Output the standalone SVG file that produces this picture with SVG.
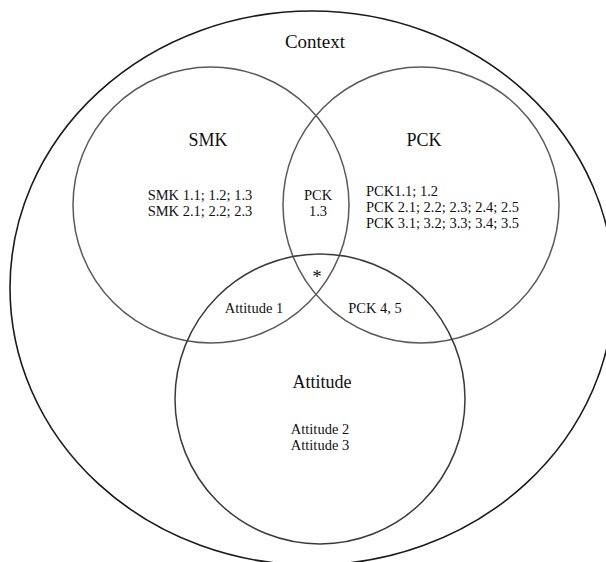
<svg xmlns="http://www.w3.org/2000/svg" width="606" height="562" viewBox="0 0 606 562">
<style>
.ring{fill:none;stroke:#5a5a5a;stroke-width:1.5}
.outer{fill:none;stroke:#1a1a1a;stroke-width:1.6}
text{font-family:"Liberation Serif","Times New Roman",serif;fill:#111;text-anchor:middle}
.big{font-size:18px}
.ctx{font-size:19px}
.sm{font-size:14.5px}
.left{text-anchor:start}
</style>
<rect width="606" height="562" fill="#fff"/>
<g id="context">
<ellipse class="outer" cx="312" cy="288" rx="302" ry="277"/>
<text class="ctx" x="315" y="48">Context</text>
</g>
<g id="smk">
<circle class="ring" cx="211" cy="205" r="138"/>
<text class="big" x="208" y="146">SMK</text>
<text class="sm" x="200" y="200">SMK 1.1; 1.2; 1.3</text>
<text class="sm" x="200" y="216">SMK 2.1; 2.2; 2.3</text>
</g>
<g id="pck">
<circle class="ring" cx="421" cy="205" r="138"/>
<text class="big" x="424" y="146">PCK</text>
<text class="sm left" x="366" y="196">PCK1.1; 1.2</text>
<text class="sm left" x="366" y="212">PCK 2.1; 2.2; 2.3; 2.4; 2.5</text>
<text class="sm left" x="366" y="228">PCK 3.1; 3.2; 3.3; 3.4; 3.5</text>
</g>
<g id="attitude">
<circle class="ring" cx="320" cy="399" r="145" style="stroke:#3a3a3a"/>
<text class="big" x="322" y="388">Attitude</text>
<text class="sm" x="320" y="434">Attitude 2</text>
<text class="sm" x="320" y="450">Attitude 3</text>
</g>
<g id="smk-pck">
<text class="sm" x="318" y="200">PCK</text>
<text class="sm" x="318" y="216">1.3</text>
</g>
<g id="smk-attitude">
<text class="sm" x="254" y="313">Attitude 1</text>
</g>
<g id="pck-attitude">
<text class="sm" x="375" y="313">PCK 4, 5</text>
</g>
<g id="all-three">
<text x="317" y="283" style="font-size:19px">*</text>
</g>
</svg>
